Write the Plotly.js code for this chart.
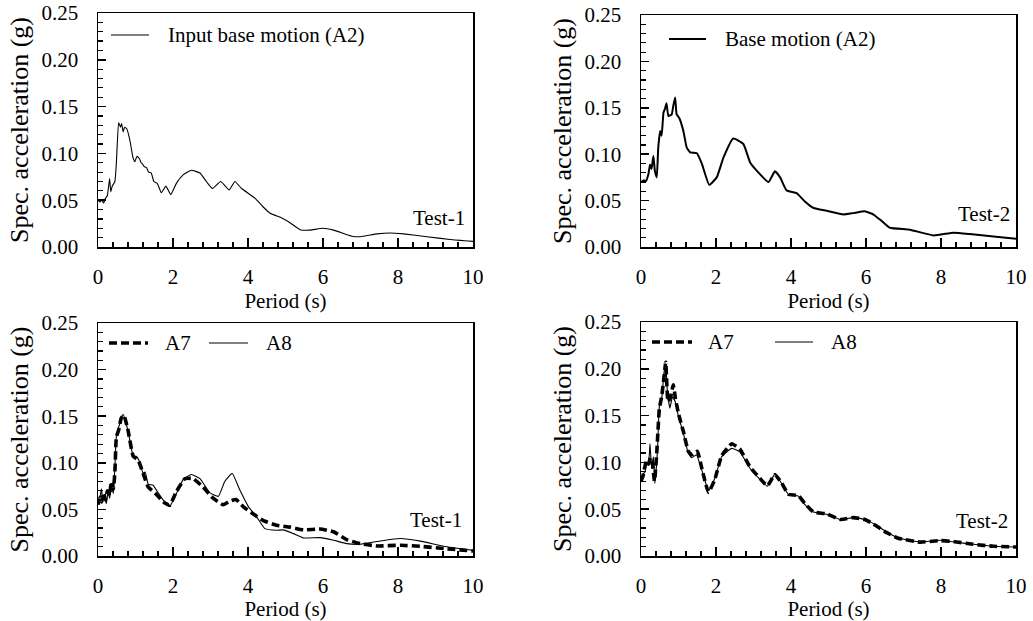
<!DOCTYPE html>
<html>
<head>
<meta charset="utf-8">
<script src="https://cdn.plot.ly/plotly-3.0.1.min.js"></script>
<style>html,body{margin:0;padding:0;background:#fff;}#chart{width:1033px;height:621px;}</style>
</head>
<body>
<div id="chart"></div>
<script>
// ---- Data (period in s, spectral acceleration in g) ----
const t1BaseT = [0,0.05,0.1,0.15,0.2,0.25,0.31,0.34,0.38,0.45,0.49,0.55,0.6,0.63,0.67,0.71,0.77,0.85,0.93,0.98,1.04,1.11,1.15,1.18,1.23,1.29,1.35,1.42,1.49,1.58,1.69,1.81,1.94,2.09,2.27,2.49,2.72,2.89,3.05,3.27,3.5,3.65,3.83,4.19,4.4,4.59,4.9,5.12,5.39,5.65,5.99,6.28,6.77,6.99,7.44,7.79,8.15,8.77,9.39,10];
const t1BaseSa = [0.050,0.048,0.050,0.047,0.052,0.055,0.073,0.059,0.065,0.070,0.090,0.133,0.128,0.132,0.123,0.128,0.126,0.114,0.096,0.091,0.097,0.094,0.090,0.089,0.086,0.085,0.080,0.079,0.070,0.068,0.058,0.065,0.056,0.068,0.077,0.082,0.079,0.070,0.0625,0.070,0.061,0.070,0.0625,0.052,0.043,0.036,0.031,0.026,0.0185,0.018,0.020,0.018,0.0115,0.011,0.014,0.015,0.014,0.011,0.008,0.006];

const t2BaseT = [0,0.08,0.13,0.2,0.24,0.28,0.33,0.37,0.42,0.46,0.51,0.55,0.6,0.64,0.68,0.73,0.82,0.86,0.91,0.95,1.02,1.13,1.22,1.31,1.49,1.62,1.82,2.02,2.2,2.46,2.73,2.91,3.09,3.4,3.57,3.71,3.88,4.15,4.37,4.6,4.95,5.4,5.66,5.97,6.2,6.42,6.64,7.17,7.8,8.33,8.77,9.4,10];
const t2BaseSa = [0.070,0.072,0.071,0.079,0.089,0.084,0.098,0.082,0.075,0.107,0.125,0.120,0.145,0.149,0.155,0.141,0.143,0.152,0.161,0.143,0.139,0.125,0.107,0.102,0.101,0.090,0.067,0.075,0.0965,0.117,0.111,0.091,0.082,0.070,0.0815,0.075,0.061,0.058,0.049,0.042,0.039,0.035,0.0365,0.0385,0.035,0.028,0.0207,0.0186,0.0125,0.0154,0.014,0.0114,0.009];

const b1A7T = [0,0.05,0.1,0.15,0.2,0.25,0.3,0.36,0.41,0.45,0.49,0.55,0.62,0.69,0.8,0.94,1.07,1.2,1.34,1.56,1.74,1.91,2.09,2.32,2.54,2.8,3.07,3.34,3.52,3.68,3.87,4.14,4.41,4.76,5.12,5.48,5.92,6.28,6.63,6.99,7.44,8.06,8.6,9.22,10];
const b1A7Sa = [0.055,0.063,0.058,0.068,0.060,0.070,0.065,0.080,0.072,0.090,0.128,0.135,0.148,0.151,0.135,0.107,0.103,0.089,0.074,0.066,0.058,0.0545,0.069,0.083,0.083,0.074,0.062,0.055,0.059,0.0606,0.053,0.045,0.038,0.033,0.031,0.028,0.029,0.026,0.0176,0.0133,0.0108,0.0115,0.0104,0.008,0.0054];
const b1A8T = [0,0.04,0.09,0.13,0.18,0.22,0.27,0.31,0.36,0.41,0.45,0.49,0.58,0.67,0.76,0.85,0.94,1.02,1.11,1.2,1.26,1.34,1.47,1.6,1.74,1.91,2.09,2.27,2.49,2.72,2.98,3.21,3.38,3.58,3.78,4.01,4.23,4.45,4.76,4.94,5.21,5.48,5.92,6.28,6.63,6.99,7.35,8.06,8.6,9.22,10];
const b1A8Sa = [0.057,0.060,0.072,0.059,0.066,0.056,0.069,0.062,0.074,0.067,0.096,0.128,0.142,0.152,0.141,0.124,0.107,0.107,0.101,0.089,0.090,0.077,0.076,0.068,0.060,0.053,0.067,0.082,0.0875,0.083,0.068,0.064,0.080,0.0886,0.071,0.053,0.042,0.0294,0.0276,0.028,0.024,0.0194,0.0197,0.0169,0.0133,0.0126,0.015,0.0187,0.016,0.0104,0.006];

const b2A7T = [0,0.05,0.1,0.15,0.2,0.25,0.3,0.36,0.42,0.49,0.55,0.61,0.66,0.72,0.79,0.86,0.92,1.0,1.13,1.26,1.35,1.5,1.62,1.8,1.97,2.15,2.42,2.64,2.91,3.17,3.37,3.57,3.75,3.93,4.2,4.37,4.6,4.95,5.31,5.66,5.97,6.2,6.55,6.86,7.44,7.97,8.33,8.86,9.4,10];
const b2A7Sa = [0.080,0.085,0.095,0.102,0.098,0.105,0.100,0.080,0.110,0.158,0.170,0.190,0.207,0.165,0.170,0.183,0.168,0.152,0.133,0.112,0.108,0.112,0.094,0.068,0.082,0.107,0.120,0.114,0.095,0.083,0.075,0.087,0.078,0.066,0.0645,0.056,0.047,0.045,0.039,0.041,0.039,0.034,0.025,0.019,0.0148,0.0165,0.0155,0.0125,0.0104,0.0096];
const b2A8T = [0,0.06,0.11,0.15,0.2,0.24,0.28,0.33,0.37,0.44,0.49,0.55,0.61,0.66,0.7,0.77,0.84,0.91,1.0,1.13,1.26,1.35,1.48,1.62,1.8,1.97,2.15,2.42,2.64,2.91,3.17,3.37,3.57,3.75,3.93,4.2,4.37,4.6,4.95,5.31,5.66,5.97,6.2,6.55,6.86,7.44,7.97,8.33,8.86,9.4,10];
const b2A8Sa = [0.081,0.088,0.090,0.100,0.100,0.120,0.095,0.106,0.0775,0.113,0.160,0.167,0.195,0.206,0.178,0.158,0.170,0.165,0.149,0.131,0.110,0.105,0.108,0.092,0.070,0.083,0.106,0.115,0.111,0.0935,0.082,0.0746,0.0875,0.0775,0.066,0.064,0.055,0.047,0.0446,0.039,0.041,0.039,0.0346,0.0257,0.0193,0.015,0.0168,0.015,0.0125,0.0104,0.0096];

const xTicks = [0,2,4,6,8,10];
const yTicks = [0,0.05,0.10,0.15,0.20,0.25];
const panelTags = ['Test-1','Test-2','Test-1','Test-2'];
const legendLabels = [['Input base motion (A2)'], ['Base motion (A2)'], ['A7','A8'], ['A7','A8']];

// ---- Styling ----
const FONT = 'Liberation Serif';
const W = 1033, H = 621;
const px = v => v / W;
const py = v => 1 - v / H;

function xAxis(domain, anchor) {
  return {
    domain: domain, anchor: anchor, range: [0, 10],
    tickvals: xTicks, ticktext: xTicks.map(String),
    ticks: 'inside', ticklen: 9, tickwidth: 1.5, tickcolor: '#000',
    minor: {dtick: 0.4, tick0: 0, ticks: 'inside', ticklen: 5, tickwidth: 1.2, tickcolor: '#000', showgrid: false},
    showline: true, linewidth: 1.5, linecolor: '#000', mirror: true,
    showgrid: false, zeroline: false,
    tickfont: {family: FONT, size: 21, color: '#000'},
    ticklabelstandoff: 10,
    title: {text: 'Period (s)', font: {family: FONT, size: 21, color: '#000'}, standoff: 2}
  };
}
function yAxis(domain, anchor) {
  return {
    domain: domain, anchor: anchor, range: [0, 0.25],
    tickvals: yTicks, ticktext: yTicks.map(v => v.toFixed(2)),
    ticks: 'inside', ticklen: 8, tickwidth: 1.5, tickcolor: '#000',
    minor: {dtick: 0.01, tick0: 0, ticks: 'inside', ticklen: 4.5, tickwidth: 1.2, tickcolor: '#000', showgrid: false},
    showline: true, linewidth: 1.5, linecolor: '#000', mirror: true,
    showgrid: false, zeroline: false,
    tickfont: {family: FONT, size: 21, color: '#000'},
    ticklabelstandoff: 14,
    title: {text: 'Spec. acceleration (g)', font: {family: FONT, size: 26, color: '#000'}, standoff: 5}
  };
}

const solidThin = {color: '#000', width: 1.1, shape: 'spline', smoothing: 0.4};
const solidBold = {color: '#000', width: 2, shape: 'spline', smoothing: 0.4};
const dashedBold = {color: '#000', width: 3.6, dash: '8px,4px', shape: 'spline', smoothing: 0.4};

const traces = [
  {x: t1BaseT, y: t1BaseSa, type: 'scatter', mode: 'lines', name: legendLabels[0][0], line: solidThin, xaxis: 'x', yaxis: 'y'},
  {x: t2BaseT, y: t2BaseSa, type: 'scatter', mode: 'lines', name: legendLabels[1][0], line: solidBold, xaxis: 'x2', yaxis: 'y2'},
  {x: b1A7T, y: b1A7Sa, type: 'scatter', mode: 'lines', name: legendLabels[2][0], line: dashedBold, xaxis: 'x3', yaxis: 'y3'},
  {x: b1A8T, y: b1A8Sa, type: 'scatter', mode: 'lines', name: legendLabels[2][1], line: solidThin, xaxis: 'x3', yaxis: 'y3'},
  {x: b2A7T, y: b2A7Sa, type: 'scatter', mode: 'lines', name: legendLabels[3][0], line: dashedBold, xaxis: 'x4', yaxis: 'y4'},
  {x: b2A8T, y: b2A8Sa, type: 'scatter', mode: 'lines', name: legendLabels[3][1], line: solidThin, xaxis: 'x4', yaxis: 'y4'}
];

const txtFont = {family: FONT, size: 21, color: '#000'};

// Panel tags (Test-1 / Test-2)
const tagX = [9.85, 9.9, 9.75, 9.85];
const tagY = [0.031, 0.036, 0.0386, 0.0375];
const annotations = panelTags.map((t, i) => ({
  text: t, x: tagX[i], y: tagY[i], xref: i === 0 ? 'x' : 'x' + (i + 1), yref: i === 0 ? 'y' : 'y' + (i + 1),
  xanchor: 'right', yanchor: 'middle', showarrow: false, font: txtFont
}));

// Legend keys drawn inside each panel (sample line + label)
const legendKeys = [
  {x0: 111, x1: 149, tx: 166, y: 35, label: legendLabels[0][0], line: solidThin},
  {x0: 669, x1: 706, tx: 723, y: 39, label: legendLabels[1][0], line: solidBold},
  {x0: 109, x1: 148, tx: 163, y: 343, label: legendLabels[2][0], line: dashedBold},
  {x0: 209, x1: 248, tx: 264, y: 343, label: legendLabels[2][1], line: solidThin},
  {x0: 652, x1: 692, tx: 706, y: 342, label: legendLabels[3][0], line: dashedBold},
  {x0: 775, x1: 813, tx: 829, y: 342, label: legendLabels[3][1], line: solidThin}
];
const shapes = legendKeys.map(k => ({
  type: 'line', xref: 'paper', yref: 'paper', x0: px(k.x0), x1: px(k.x1), y0: py(k.y), y1: py(k.y),
  line: {color: '#000', width: k.line.width, dash: k.line.dash || 'solid'}
}));
legendKeys.forEach(k => annotations.push({
  text: k.label, x: px(k.tx), y: py(k.y), xref: 'paper', yref: 'paper',
  xanchor: 'left', yanchor: 'middle', showarrow: false, font: txtFont
}));

const layout = {
  width: W, height: H,
  margin: {l: 0, r: 0, t: 0, b: 0},
  paper_bgcolor: '#fff', plot_bgcolor: '#fff',
  font: {family: FONT, color: '#000'},
  showlegend: false,
  xaxis: xAxis([px(98), px(473)], 'y'),
  yaxis: yAxis([py(247), py(13)], 'x'),
  xaxis2: xAxis([px(641), px(1016)], 'y2'),
  yaxis2: yAxis([py(247), py(15)], 'x2'),
  xaxis3: xAxis([px(98), px(473)], 'y3'),
  yaxis3: yAxis([py(556), py(323)], 'x3'),
  xaxis4: xAxis([px(641), px(1016)], 'y4'),
  yaxis4: yAxis([py(556), py(322)], 'x4'),
  shapes: shapes,
  annotations: annotations
};

Plotly.newPlot('chart', traces, layout, {staticPlot: true, displayModeBar: false});
</script>
</body>
</html>
